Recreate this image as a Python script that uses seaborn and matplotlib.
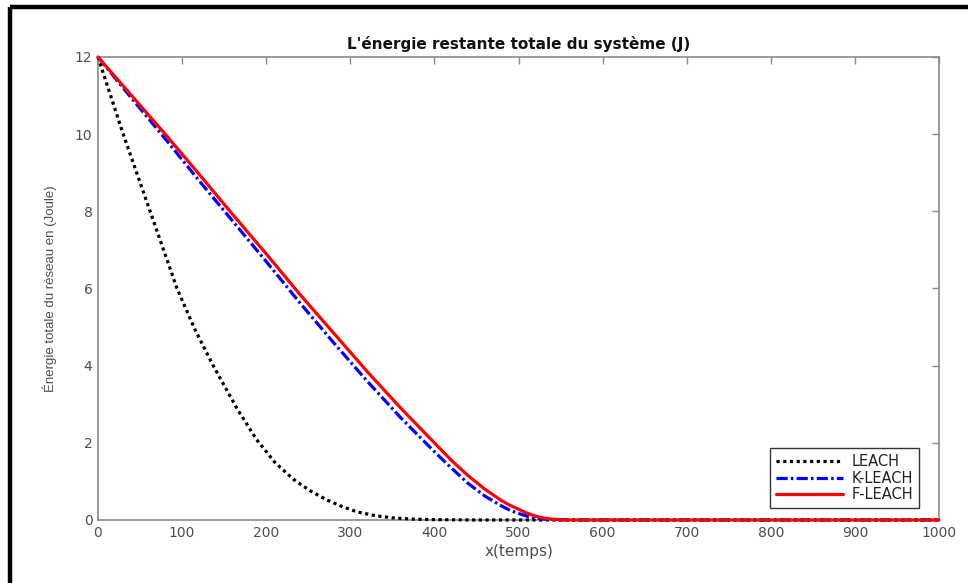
import matplotlib
matplotlib.use("Agg")
import matplotlib.pyplot as plt
from matplotlib.lines import Line2D
import pandas as pd
import seaborn as sns

# Remaining total energy of the network (J) over time for three protocols
leach_t = [0, 30, 62, 94, 115, 137, 165, 188, 210, 232, 252, 272, 290, 308, 330, 350, 375, 400, 450, 1000]
leach_e = [12, 10, 8, 6, 4.95, 4.0, 2.9, 2.1, 1.5, 1.06, 0.76, 0.52, 0.35, 0.21, 0.11, 0.055, 0.022, 0.008, 0, 0]

kleach_t = [0, 40, 80, 120, 157, 200, 240, 280, 320, 360, 400, 420, 440, 460, 480, 490,
            500, 510, 520, 530, 540, 560, 1000]
kleach_e = [12, 10.93, 9.88, 8.8, 7.83, 6.7, 5.63, 4.6, 3.6, 2.65, 1.77, 1.35, 0.95, 0.62, 0.36, 0.25,
            0.17, 0.1, 0.05, 0.025, 0.01, 0, 0]

fleach_t = [0, 40, 80, 120, 157, 200, 240, 280, 320, 360, 400, 420, 440, 460, 480, 490,
            500, 510, 520, 530, 540, 560, 1000]
fleach_e = [12, 11, 10, 8.97, 8, 6.9, 5.85, 4.85, 3.85, 2.9, 2.0, 1.55, 1.15, 0.8, 0.5, 0.38,
            0.28, 0.18, 0.1, 0.05, 0.02, 0, 0]

x_ticks = list(range(0, 1001, 100))
y_ticks = list(range(0, 13, 2))

sns.set_style("white")
plt.rcParams["font.family"] = ["DejaVu Sans"]

fig = plt.figure(figsize=(9.68, 5.83), dpi=100)
ax = fig.add_axes([0.1012, 0.1081, 0.8689, 0.7942])

axis_grey = "#8a8a8a"
label_grey = "#4d4d4d"

series = [
    ("LEACH", leach_t, leach_e, "black", (0, (1, 1.1))),
    ("K-LEACH", kleach_t, kleach_e, "#0000ff", (0, (3.5, 1.0, 0.8, 1.0))),
    ("F-LEACH", fleach_t, fleach_e, "#ff0000", "-"),
]
for name, t, e, col, ls in series:
    df = pd.DataFrame({"t": t, "e": e})
    sns.lineplot(data=df, x="t", y="e", ax=ax, color=col, linestyle=ls,
                 linewidth=2.3, label=name, clip_on=False, zorder=3)

ax.set_xlim(0, 1000)
ax.set_ylim(0, 12)
ax.set_xticks(x_ticks)
ax.set_yticks(y_ticks)
ax.tick_params(direction="in", length=5, width=1.0, color=axis_grey,
               labelcolor=label_grey, labelsize=10, top=True, right=True,
               pad=4)
for sp in ax.spines.values():
    sp.set_color(axis_grey)
    sp.set_linewidth(1.2)
    sp.set_visible(True)

ax.set_title("L'énergie restante totale du système (J)", fontsize=11,
             fontweight="bold", color="#111111", pad=6)
ax.set_xlabel("x(temps)", fontsize=11, color=label_grey, labelpad=3)
ax.set_ylabel("Énergie totale du réseau en (Joule)", fontsize=9.5,
              family=["Liberation Sans", "DejaVu Sans"], color=label_grey,
              labelpad=13)

leg = ax.legend(loc="lower right", bbox_to_anchor=(0.976, 0.026),
                fontsize=10.5, frameon=True, fancybox=False, framealpha=1,
                edgecolor="#333333", handlelength=4.6, handletextpad=0.6,
                labelspacing=0.12, borderpad=0.38, borderaxespad=0)
leg.get_frame().set_linewidth(1.0)
for txt in leg.get_texts():
    txt.set_color("#222222")

# Black frame lines along the top and left edges of the figure
fig.add_artist(Line2D([0.0103, 1.0], [0.988, 0.988], transform=fig.transFigure,
                      color="black", linewidth=3.2, solid_capstyle="butt"))
fig.add_artist(Line2D([0.0103, 0.0103], [0.0, 0.988], transform=fig.transFigure,
                      color="black", linewidth=3.2, solid_capstyle="butt"))

fig.savefig("out.png", dpi=100, facecolor="white")
